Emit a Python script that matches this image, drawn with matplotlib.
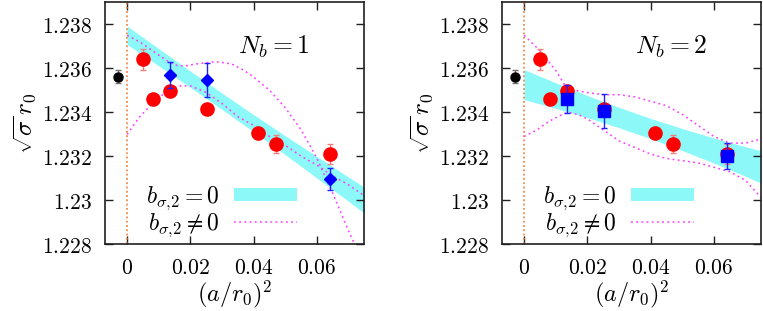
import numpy as np
import matplotlib
matplotlib.use("Agg")
import matplotlib.pyplot as plt
from matplotlib.patches import Patch
from matplotlib.lines import Line2D

plt.rcParams['mathtext.fontset'] = 'cm'
plt.rcParams['font.family'] = 'DejaVu Serif'
plt.rcParams['font.size'] = 15

# ---- data ----
red_x = [0.0049, 0.0083, 0.0135, 0.0252, 0.0415, 0.0469, 0.0640]
red_y = [1.23641, 1.23459, 1.23497, 1.23415, 1.23307, 1.23257, 1.23209]
red_err = [0.00047, 0.00018, 0.00023, 0.00013, 0.00010, 0.00040, 0.00045]

black_x = [-0.0029]
black_y = [1.23561]
black_err = [0.0003]

nb1_x = [0.0135, 0.0252, 0.0640]
nb1_y = [1.23570, 1.23547, 1.23097]
nb1_err = [0.00060, 0.00077, 0.00048]

nb2_x = [0.0135, 0.0252, 0.0640]
nb2_y = [1.23459, 1.23406, 1.23201]
nb2_err = [0.00064, 0.00077, 0.00060]

# b_sigma,2 = 0 bands (linear fit), upper / lower edge
band_x = [0.0, 0.01, 0.02, 0.03, 0.04, 0.05, 0.06, 0.07, 0.075]
band1_hi = [1.23792, 1.23689, 1.23587, 1.23487, 1.23389, 1.23293, 1.23199, 1.23105, 1.23059]
band1_lo = [1.23708, 1.23611, 1.23513, 1.23413, 1.23311, 1.23207, 1.23101, 1.22995, 1.22941]
band2_hi = [1.23594, 1.23534, 1.23476, 1.23422, 1.23372, 1.23326, 1.23283, 1.23243, 1.23225]
band2_lo = [1.23458, 1.23418, 1.23376, 1.23330, 1.23280, 1.23226, 1.23169, 1.23109, 1.23077]

# b_sigma,2 != 0 curves
c1_up_x = [0.0, 0.004, 0.008, 0.012, 0.015, 0.018, 0.022, 0.028, 0.033, 0.037,
           0.040, 0.045, 0.050, 0.055, 0.060, 0.065, 0.070, 0.075]
c1_up_y = [1.2375, 1.2372, 1.2368, 1.2364, 1.23615, 1.2361, 1.2362, 1.2363, 1.2362, 1.2359,
           1.2356, 1.2350, 1.2342, 1.2332, 1.2319, 1.2303, 1.2286, 1.2270]
c1_lo_x = [0.0, 0.004, 0.008, 0.012, 0.016, 0.020, 0.025, 0.030, 0.035, 0.040,
           0.045, 0.050, 0.055, 0.060, 0.065, 0.070, 0.075]
c1_lo_y = [1.2330, 1.2338, 1.2344, 1.2349, 1.2352, 1.2352, 1.2349, 1.2344, 1.2338, 1.2334,
           1.2329, 1.2325, 1.2320, 1.2316, 1.2311, 1.2307, 1.2302]

c2_up_x = [0.0, 0.005, 0.010, 0.013, 0.016, 0.020, 0.025, 0.030, 0.035, 0.040,
           0.045, 0.050, 0.055, 0.060, 0.065, 0.070, 0.075]
c2_up_y = [1.2375, 1.2368, 1.2359, 1.2352, 1.2350, 1.2349, 1.2348, 1.2348, 1.2347, 1.2345,
           1.2343, 1.2339, 1.2334, 1.2329, 1.2326, 1.2326, 1.2328]
c2_lo_x = [0.0, 0.004, 0.008, 0.012, 0.014, 0.017, 0.020, 0.025, 0.030, 0.035,
           0.040, 0.045, 0.050, 0.055, 0.060, 0.065, 0.070, 0.075]
c2_lo_y = [1.2329, 1.2332, 1.2336, 1.2339, 1.2340, 1.2339, 1.2337, 1.2332, 1.2327, 1.2324,
           1.2321, 1.2319, 1.2318, 1.2317, 1.2315, 1.2313, 1.2309, 1.2301]

yticks = [1.228, 1.230, 1.232, 1.234, 1.236, 1.238]
ytick_labels = ['1.228', '1.23', '1.232', '1.234', '1.236', '1.238']
xticks = [0.0, 0.02, 0.04, 0.06]
xtick_labels = ['0', '0.02', '0.04', '0.06']

CYAN = '#8cf8f8'
MAG = '#ff3cff'
ORANGE = '#f07830'

fig = plt.figure(figsize=(7.63, 3.11), dpi=100)
ax1 = fig.add_axes([0.1376, 0.2145, 0.3401, 0.7781])
ax2 = fig.add_axes([0.6579, 0.2145, 0.3401, 0.7781])


def panel(ax, band_hi, band_lo, up_x, up_y, lo_x, lo_y, bx, by, berr, bmarker, bms, label):
    ax.fill_between(band_x, band_lo, band_hi, color=CYAN, lw=0, zorder=1)
    ax.plot(up_x, up_y, color=MAG, lw=1.1, dashes=(1.2, 2.2), zorder=2)
    ax.plot(lo_x, lo_y, color=MAG, lw=1.1, dashes=(1.2, 2.2), zorder=2)
    ax.axvline(0, color=ORANGE, lw=1.1, dashes=(1.2, 1.6), zorder=2)

    ax.errorbar(black_x, black_y, yerr=black_err, fmt='o', color='black', ms=6.5,
                ecolor='#707070', elinewidth=1, capsize=2.5, zorder=3)
    ax.errorbar(red_x, red_y, yerr=red_err, fmt='o', color='#ff0000', ms=9.5,
                ecolor='#f08080', elinewidth=1, capsize=2.5, zorder=3)
    ax.errorbar(bx, by, yerr=berr, fmt=bmarker, color='#0000ff', ms=bms,
                ecolor='#2020ff', elinewidth=1, capsize=2.5, zorder=4)

    ax.text(0.0465, 1.23698, label, ha='center', va='center', fontsize=18.5)

    ax.set_xlim(-0.007, 0.075)
    ax.set_ylim(1.228, 1.239)
    ax.set_xticks(xticks)
    ax.set_xticklabels(['$%s$' % t for t in xtick_labels])
    ax.set_yticks(yticks)
    ax.set_yticklabels(['$%s$' % t for t in ytick_labels])
    ax.tick_params(direction='in', top=True, right=True, length=6, width=1,
                   pad=9, labelsize=15.5, color='#202020')
    for s in ax.spines.values():
        s.set_linewidth(1.2)
        s.set_color('#202020')
    ax.set_xlabel(r'$(a/r_0)^2$', fontsize=17.5, labelpad=0)
    ax.set_ylabel(r'$\sqrt{\sigma}\, r_0$', fontsize=18, labelpad=2)

    handles = [Patch(facecolor=CYAN, edgecolor='none'),
               Line2D([], [], color=MAG, lw=1.1, dashes=(1.2, 2.2))]
    ax.legend(handles, [r'$b_{\sigma{,}2} = 0$', r'$b_{\sigma{,}2} \neq 0$'],
              loc='center left', bbox_to_anchor=(0.158, 0.135), frameon=False,
              markerfirst=False, borderpad=0, borderaxespad=0, handlelength=2.7,
              handleheight=0.45, handletextpad=0.6, labelspacing=-0.05, fontsize=17)


panel(ax1, band1_hi, band1_lo, c1_up_x, c1_up_y, c1_lo_x, c1_lo_y,
      nb1_x, nb1_y, nb1_err, 'D', 6.5, r'$N_b = 1$')
panel(ax2, band2_hi, band2_lo, c2_up_x, c2_up_y, c2_lo_x, c2_lo_y,
      nb2_x, nb2_y, nb2_err, 's', 8.5, r'$N_b = 2$')

fig.savefig('out.png', dpi=100)
